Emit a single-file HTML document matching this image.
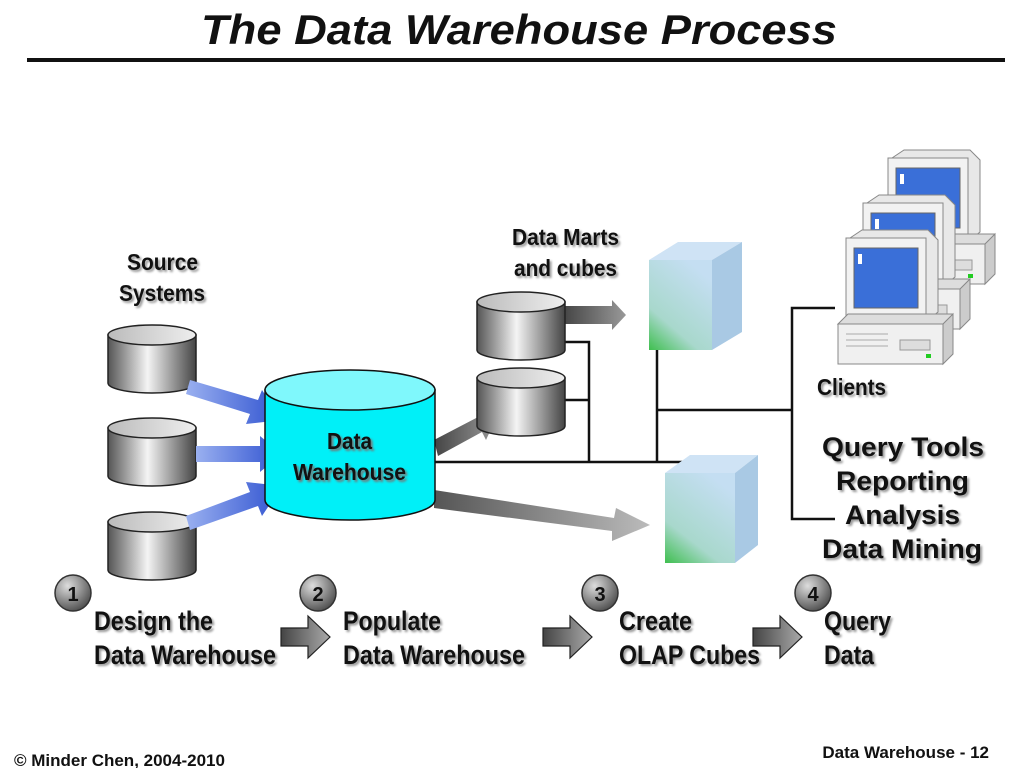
<!DOCTYPE html>
<html><head><meta charset="utf-8"><style>
html,body{margin:0;padding:0;background:#fff;}
svg{display:block;}
.t{font-family:"Liberation Sans",sans-serif;font-weight:bold;fill:#111;}
.w{font-family:"Liberation Sans",sans-serif;font-weight:bold;fill:#111;}
</style></head><body>
<svg width="1024" height="768" viewBox="0 0 1024 768" xmlns="http://www.w3.org/2000/svg">
<defs>
<linearGradient id="gcyl" x1="0" x2="1" y1="0" y2="0">
<stop offset="0" stop-color="#555"/><stop offset="0.45" stop-color="#f4f4f4"/><stop offset="1" stop-color="#444"/></linearGradient>
<linearGradient id="gtop" x1="0" x2="1"><stop offset="0" stop-color="#bbb"/><stop offset="1" stop-color="#eee"/></linearGradient>
<linearGradient id="gblue" x1="0" x2="1"><stop offset="0" stop-color="#9ab0f0"/><stop offset="1" stop-color="#2f52d0"/></linearGradient>
<linearGradient id="ggray" x1="0" x2="1"><stop offset="0" stop-color="#444"/><stop offset="1" stop-color="#999"/></linearGradient>
<linearGradient id="ggray2" x1="0" x2="1"><stop offset="0" stop-color="#555"/><stop offset="1" stop-color="#bbb"/></linearGradient>
<linearGradient id="gcube" x1="0" y1="1" x2="0.6" y2="0"><stop offset="0" stop-color="#3fbf4f"/><stop offset="0.35" stop-color="#a8d8cc"/><stop offset="1" stop-color="#c4def2"/></linearGradient>
<radialGradient id="gball" cx="0.35" cy="0.3" r="0.8"><stop offset="0" stop-color="#ddd"/><stop offset="1" stop-color="#444"/></radialGradient>
<linearGradient id="gstep" x1="0" x2="1"><stop offset="0" stop-color="#444"/><stop offset="1" stop-color="#aaa"/></linearGradient>
<g id="pc">
<polygon points="12,8 24,0 90,0 100,10 100,82 88,92" fill="#e8e8e8" stroke="#888"/>
<rect x="8" y="8" width="80" height="84" fill="#f2f2f2" stroke="#888"/>
<rect x="16" y="18" width="64" height="60" fill="#3a6fd8" stroke="#666"/>
<rect x="20" y="24" width="4" height="10" fill="#fff"/>
<polygon points="0,94 10,84 115,84 115,88 105,98" fill="#ddd" stroke="#888"/>
<rect x="0" y="94" width="105" height="40" fill="#f0f0f0" stroke="#888"/>
<polygon points="105,94 115,84 115,124 105,134" fill="#ccc" stroke="#888"/>
<line x1="8" y1="104" x2="50" y2="104" stroke="#aaa"/><line x1="8" y1="110" x2="50" y2="110" stroke="#aaa"/><line x1="8" y1="116" x2="50" y2="116" stroke="#aaa"/>
<rect x="62" y="110" width="30" height="10" fill="#ddd" stroke="#999"/>
<rect x="88" y="124" width="5" height="4" fill="#2c2"/>
</g>
<g id="cyl">
<path d="M0,10 L0,58 A44,10 0 0 0 88,58 L88,10 Z" fill="url(#gcyl)" stroke="#222" stroke-width="1.5"/>
<ellipse cx="44" cy="10" rx="44" ry="10" fill="url(#gtop)" stroke="#222" stroke-width="1.5"/>
</g>
</defs>

<text x="201" y="44" textLength="636" lengthAdjust="spacingAndGlyphs" font-family="Liberation Sans,sans-serif" font-weight="bold" font-style="italic" font-size="42" fill="#111">The Data Warehouse Process</text>
<rect x="27" y="58" width="978" height="4" fill="#111"/>

<g class="t" font-size="23" style="filter:drop-shadow(2px 2px 1px #999)" lengthAdjust="spacingAndGlyphs">
<text x="127" y="270" textLength="71" lengthAdjust="spacingAndGlyphs">Source</text><text x="119" y="301" textLength="86" lengthAdjust="spacingAndGlyphs">Systems</text>
<text x="512" y="245" textLength="107" lengthAdjust="spacingAndGlyphs">Data Marts</text><text x="514" y="276" textLength="103" lengthAdjust="spacingAndGlyphs">and cubes</text>
<text x="817" y="395" textLength="69" lengthAdjust="spacingAndGlyphs">Clients</text>
</g>

<use href="#cyl" x="108" y="325"/>
<use href="#cyl" x="108" y="418"/>
<use href="#cyl" x="108" y="512"/>

<polygon points="190,380 258,400 262,390 282,420 246,424 250,414 186,394" fill="url(#gblue)"/>
<polygon points="196,446 260,446 260,436 282,454 260,472 260,462 196,462" fill="url(#gblue)"/>
<polygon points="186,516 250,492 246,482 282,486 262,516 258,506 190,530" fill="url(#gblue)"/>

<g stroke="#111" stroke-width="2.5" fill="none">
<line x1="430" y1="462" x2="686" y2="462"/>
<polyline points="563,342 589,342 589,462"/>
<line x1="563" y1="400" x2="589" y2="400"/>
<line x1="657" y1="343" x2="657" y2="462"/>
<line x1="657" y1="410" x2="792" y2="410"/>
<polyline points="835,308 792,308 792,519 835,519"/>
</g>

<polygon points="434,440 480,416 476,410 496,418 486,440 482,432 438,456" fill="url(#ggray)"/>
<polygon points="434,490 614,518 616,508 650,525 612,541 612,531 434,508" fill="url(#ggray2)"/>
<polygon points="563,306 612,306 612,300 626,315 612,330 612,324 563,324" fill="url(#ggray)"/>

<path d="M265,390 L265,500 A85,20 0 0 0 435,500 L435,390 Z" fill="#00f0f8" stroke="#111" stroke-width="1.5"/>
<ellipse cx="350" cy="390" rx="85" ry="20" fill="#7ff8fc" stroke="#111" stroke-width="1.5"/>
<g class="t" font-size="23" style="filter:drop-shadow(2px 2px 1px #777)">
<text x="327" y="449" textLength="45" lengthAdjust="spacingAndGlyphs">Data</text><text x="293" y="480" textLength="113" lengthAdjust="spacingAndGlyphs">Warehouse</text></g>

<use href="#cyl" x="477" y="292"/>
<use href="#cyl" x="477" y="368"/>

<polygon points="649,260 678,242 742,242 712,260" fill="#cfe3f5"/>
<polygon points="712,260 742,242 742,332 712,350" fill="#a9c9e4"/>
<rect x="649" y="260" width="63" height="90" fill="url(#gcube)"/>
<polygon points="665,473 690,455 758,455 735,473" fill="#cfe3f5"/>
<polygon points="735,473 758,455 758,545 735,563" fill="#a9c9e4"/>
<rect x="665" y="473" width="70" height="90" fill="url(#gcube)"/>

<use href="#pc" x="880" y="150"/>
<use href="#pc" x="855" y="195"/>
<use href="#pc" x="838" y="230"/>

<g class="w" font-size="27" style="filter:drop-shadow(2px 2px 1px #999)">
<text x="822" y="456" textLength="162" lengthAdjust="spacingAndGlyphs">Query Tools</text><text x="836" y="490" textLength="133" lengthAdjust="spacingAndGlyphs">Reporting</text>
<text x="845" y="524" textLength="115" lengthAdjust="spacingAndGlyphs">Analysis</text><text x="822" y="558" textLength="160" lengthAdjust="spacingAndGlyphs">Data Mining</text></g>

<g stroke="#333" stroke-width="1.5">
<circle cx="73" cy="593" r="18" fill="url(#gball)"/><circle cx="318" cy="593" r="18" fill="url(#gball)"/>
<circle cx="600" cy="593" r="18" fill="url(#gball)"/><circle cx="813" cy="593" r="18" fill="url(#gball)"/></g>
<g class="w" font-size="20" text-anchor="middle" fill="#111">
<text x="73" y="601">1</text><text x="318" y="601">2</text><text x="600" y="601">3</text><text x="813" y="601">4</text></g>
<g stroke="#222" stroke-width="1.2">
<polygon points="281,628 308,628 308,616 330,637 308,658 308,646 281,646" fill="url(#gstep)"/>
<polygon points="543,628 570,628 570,616 592,637 570,658 570,646 543,646" fill="url(#gstep)"/>
<polygon points="753,628 780,628 780,616 802,637 780,658 780,646 753,646" fill="url(#gstep)"/></g>
<g class="t" font-size="27" style="filter:drop-shadow(2px 2px 1px #999)">
<text x="94" y="630" textLength="119" lengthAdjust="spacingAndGlyphs">Design the</text><text x="94" y="664" textLength="182" lengthAdjust="spacingAndGlyphs">Data Warehouse</text>
<text x="343" y="630" textLength="98" lengthAdjust="spacingAndGlyphs">Populate</text><text x="343" y="664" textLength="182" lengthAdjust="spacingAndGlyphs">Data Warehouse</text>
<text x="619" y="630" textLength="73" lengthAdjust="spacingAndGlyphs">Create</text><text x="619" y="664" textLength="141" lengthAdjust="spacingAndGlyphs">OLAP Cubes</text>
<text x="824" y="630" textLength="67" lengthAdjust="spacingAndGlyphs">Query</text><text x="824" y="664" textLength="50" lengthAdjust="spacingAndGlyphs">Data</text></g>

<text x="14" y="766" font-family="Liberation Sans,sans-serif" font-weight="bold" font-size="17" fill="#111">© Minder Chen, 2004-2010</text>
<text x="989" y="758" text-anchor="end" font-family="Liberation Sans,sans-serif" font-weight="bold" font-size="17" fill="#111">Data Warehouse - 12</text>
</svg>
</body></html>
